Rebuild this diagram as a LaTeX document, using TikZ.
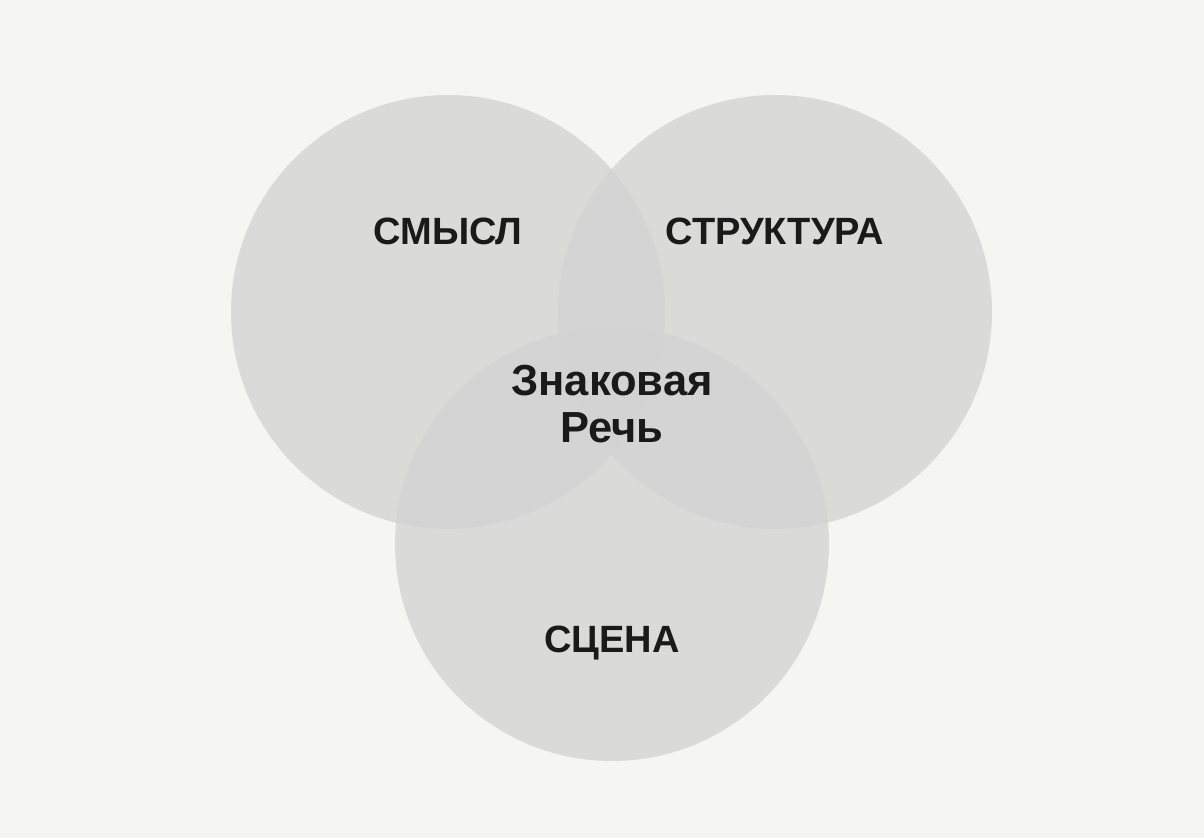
\documentclass[tikz,border=0pt]{standalone}
\usepackage{fontspec}
\setmainfont{Liberation Sans}
\definecolor{bg}{RGB}{245,245,241}
\definecolor{circ}{RGB}{211,211,211}
\definecolor{txt}{RGB}{26,26,26}
\begin{document}
\begin{tikzpicture}[x=1pt,y=1pt,
  venn/.style={fill=circ,fill opacity=0.78,draw=none},
  lbl/.style={text=txt,font=\fontsize{38}{47}\selectfont\bfseries,align=center,inner sep=0pt},
  biglbl/.style={lbl,font=\fontsize{43.5}{47}\selectfont\bfseries}]
\fill[bg] (0,0) rectangle (1204,838);
\useasboundingbox (0,0) rectangle (1204,838);
\path[venn] (448,526) circle (217);
\path[venn] (775,526) circle (217);
\path[venn] (612,294) circle (217);
\node[lbl] (smysl) at (448,607) {СМЫСЛ};
\node[lbl] (struct) at (775,607) {СТРУКТУРА};
\node[biglbl] (znak) at (612,434) {Знаковая\\Речь};
\node[lbl] (scena) at (612,195) {СЦЕНА};
\end{tikzpicture}
\end{document}
